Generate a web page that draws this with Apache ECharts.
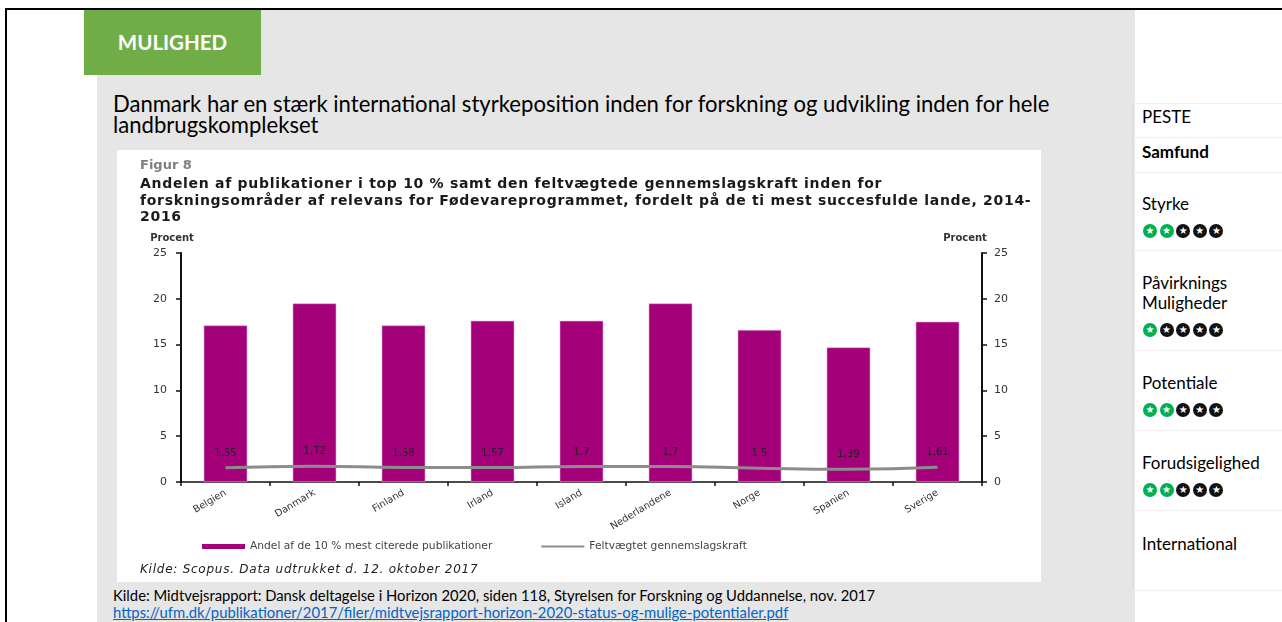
<!DOCTYPE html>
<html>
<head>
<meta charset="utf-8">
<script src="https://cdn.jsdelivr.net/npm/echarts@6/dist/echarts.min.js"></script>
<style>
  html, body { margin:0; padding:0; width:1282px; height:622px; overflow:hidden; background:#fff; }
  body { position:relative; font-family: Lato, "Open Sans", sans-serif; }
  .abs { position:absolute; white-space:nowrap; }
  #frameTop { left:5px; top:8px; width:1277px; height:2px; background:#000; }
  #frameLeft { left:5px; top:8px; width:2px; height:614px; background:#000; }
  #gray { left:97px; top:10px; width:1038px; height:612px; background:#e6e6e6; }
  #tag { left:84px; top:10px; width:177px; height:65px; background:#70ad47; color:#fff; font-weight:bold; font-size:20.5px; line-height:65px; text-align:center; }
  #heading { left:113px; top:93px; font-size:22.1px; line-height:21px; color:#000; }
  #panel { left:117px; top:150px; width:924px; height:432px; background:#fff; }
  #chart { left:117px; top:150px; width:924px; height:432px; }
  .ctext { font-family:"DejaVu Sans", Verdana, sans-serif; }
  #fig { left:140px; top:157px; font-size:13px; font-weight:bold; color:#808080; }
  #ctitle { left:140px; top:175px; font-size:14px; line-height:16.5px; letter-spacing:0.7px; font-weight:bold; color:#1a1a1a; }
  #kilde1 { left:140px; top:562px; font-size:12px; letter-spacing:0.75px; font-style:italic; color:#222; }
  #kilde2 { left:113px; top:586px; font-size:14.8px; color:#000; }
  #link { left:113px; top:603px; font-size:14.85px; color:#0563c1; text-decoration:underline; }
  #sideLine { left:1132px; top:103px; width:1px; height:487px; background:#d9d9d9; }
  .sep { position:absolute; left:1133px; width:149px; height:1px; background:#f0f0f0; }
  .side { position:absolute; left:1142px; font-size:17px; color:#000; line-height:20px; white-space:nowrap; }
  .stars { position:absolute; left:1143px; height:14px; white-space:nowrap; }
  .st { display:inline-block; width:14px; height:14px; border-radius:7px; margin-right:2.6px; color:#fff; font-size:10px; line-height:14px; text-align:center; font-family:"DejaVu Sans", sans-serif; vertical-align:top; }
  .g { background:#00b050; }
  .b { background:#111; }
</style>
</head>
<body>
<div class="abs" id="gray"></div>
<div class="abs" id="frameTop"></div>
<div class="abs" id="frameLeft"></div>
<div class="abs" id="tag">MULIGHED</div>
<div class="abs" id="heading">Danmark har en stærk international styrkeposition inden for forskning og udvikling inden for hele<br>landbrugskomplekset</div>
<div class="abs" id="panel"></div>
<div class="abs" id="chart"></div>
<div class="abs ctext" id="fig">Figur 8</div>
<div class="abs ctext" id="ctitle">Andelen af publikationer i top 10 % samt den feltvægtede gennemslagskraft inden for<br>forskningsområder af relevans for Fødevareprogrammet, fordelt på de ti mest succesfulde lande, 2014-<br>2016</div>
<div class="abs ctext" id="kilde1">Kilde: Scopus. Data udtrukket d. 12. oktober 2017</div>
<div class="abs" id="kilde2">Kilde: Midtvejsrapport: Dansk deltagelse i Horizon 2020, siden 118, Styrelsen for Forskning og Uddannelse, nov. 2017</div>
<div class="abs" id="link">https://ufm.dk/publikationer/2017/filer/midtvejsrapport-horizon-2020-status-og-mulige-potentialer.pdf</div>

<div class="abs" id="sideLine"></div>
<div id="sidebar"></div>

<script>
// ---- data ----
const categories = ['Belgien', 'Danmark', 'Finland', 'Irland', 'Island', 'Nederlandene', 'Norge', 'Spanien', 'Sverige'];
const shareTop10 = [17.1, 19.5, 17.1, 17.6, 17.6, 19.5, 16.6, 14.7, 17.5];
const fieldImpact = [1.55, 1.72, 1.58, 1.57, 1.7, 1.7, 1.5, 1.39, 1.61];
const seriesNames = ['Andel af de 10 % mest citerede publikationer', 'Feltvægtet gennemslagskraft'];
const axisName = 'Procent';
const sideLabels = ['PESTE', 'Samfund', 'Styrke', 'Påvirknings\nMuligheder', 'Potentiale', 'Forudsigelighed', 'International'];
const sideRatings = [null, null, 2, 1, 2, 2, null];

// ---- sidebar ----
(function () {
  const sb = document.getElementById('sidebar');
  const textTops = [107, 142, 194, 273, 373, 453, 534];
  const starTops = [null, null, 224, 323, 403, 483, null];
  const seps = [103, 137, 172, 250, 350, 430, 510, 590];
  seps.forEach(y => { const d = document.createElement('div'); d.className = 'sep'; d.style.top = y + 'px'; sb.appendChild(d); });
  sideLabels.forEach((t, i) => {
    const d = document.createElement('div');
    d.className = 'side';
    d.style.top = textTops[i] + 'px';
    if (i === 1) d.style.fontWeight = 'bold';
    d.innerHTML = t.replace('\n', '<br>');
    sb.appendChild(d);
    if (sideRatings[i] != null) {
      const s = document.createElement('div');
      s.className = 'stars';
      s.style.top = starTops[i] + 'px';
      for (let k = 0; k < 5; k++) {
        const c = document.createElement('span');
        c.className = 'st ' + (k < sideRatings[i] ? 'g' : 'b');
        c.textContent = '★';
        s.appendChild(c);
      }
      sb.appendChild(s);
    }
  });
})();

// ---- chart ----
const chart = echarts.init(document.getElementById('chart'), null, { renderer: 'canvas' });
const font = '"DejaVu Sans", Verdana, sans-serif';
const yAxisBase = {
  type: 'value', min: 0, max: 25, interval: 5,
  name: axisName, nameLocation: 'end', nameGap: 10,
  axisLine: { show: true, lineStyle: { color: '#111', width: 2 } },
  axisTick: { show: true, length: 5, lineStyle: { color: '#111', width: 1.5 } },
  splitLine: { show: false }
};
const nameStyle = { fontFamily: font, fontSize: 10, fontWeight: 'bold', color: '#333', align: 'center' };
chart.setOption({
  animation: false,
  textStyle: { fontFamily: font },
  grid: { left: 64, right: 59, top: 103, bottom: 100 },
  legend: {
    left: 80, top: 386,
    itemWidth: 43, itemHeight: 5, itemGap: 48,
    textStyle: { fontFamily: font, fontSize: 10.7, color: '#444' },
    data: [
      { name: seriesNames[0], icon: 'rect', itemStyle: { borderWidth: 0 } },
      { name: seriesNames[1], itemStyle: { opacity: 0 } }
    ]
  },
  xAxis: {
    type: 'category', data: categories, boundaryGap: true,
    axisLine: { lineStyle: { color: '#111', width: 1.5 } },
    axisTick: { show: true, length: 4, lineStyle: { color: '#111', width: 1.5 } },
    axisLabel: { rotate: 31, fontFamily: font, fontSize: 9.8, color: '#333', margin: 10 }
  },
  yAxis: [
    Object.assign({}, yAxisBase, {
      position: 'left',
      nameTextStyle: Object.assign({}, nameStyle, { padding: [0, 18, 0, 0] }),
      axisLabel: { fontFamily: font, fontSize: 11, color: '#333', margin: 14 }
    }),
    Object.assign({}, yAxisBase, {
      position: 'right',
      nameTextStyle: Object.assign({}, nameStyle, { padding: [0, 34, 0, 0] }),
      axisLabel: { fontFamily: font, fontSize: 11, color: '#333', margin: 12 }
    })
  ],
  series: [
    {
      name: seriesNames[0], type: 'bar', data: shareTop10, barWidth: '49%',
      itemStyle: { color: '#a3007a', borderColor: '#e9a6d6', borderWidth: 0.6 }
    },
    {
      name: seriesNames[1], type: 'line', yAxisIndex: 1, data: fieldImpact,
      smooth: true, symbol: 'circle', symbolSize: 1, showSymbol: true,
      lineStyle: { color: '#8c8c8c', width: 3 }, itemStyle: { color: 'rgba(140,140,140,0)' },
      label: {
        show: true, position: 'top', distance: 9,
        fontFamily: font, fontSize: 10, color: '#222',
        formatter: p => String(p.value).replace('.', ',')
      },
      labelLayout: { hideOverlap: false }
    }
  ]
});
</script>
</body>
</html>
